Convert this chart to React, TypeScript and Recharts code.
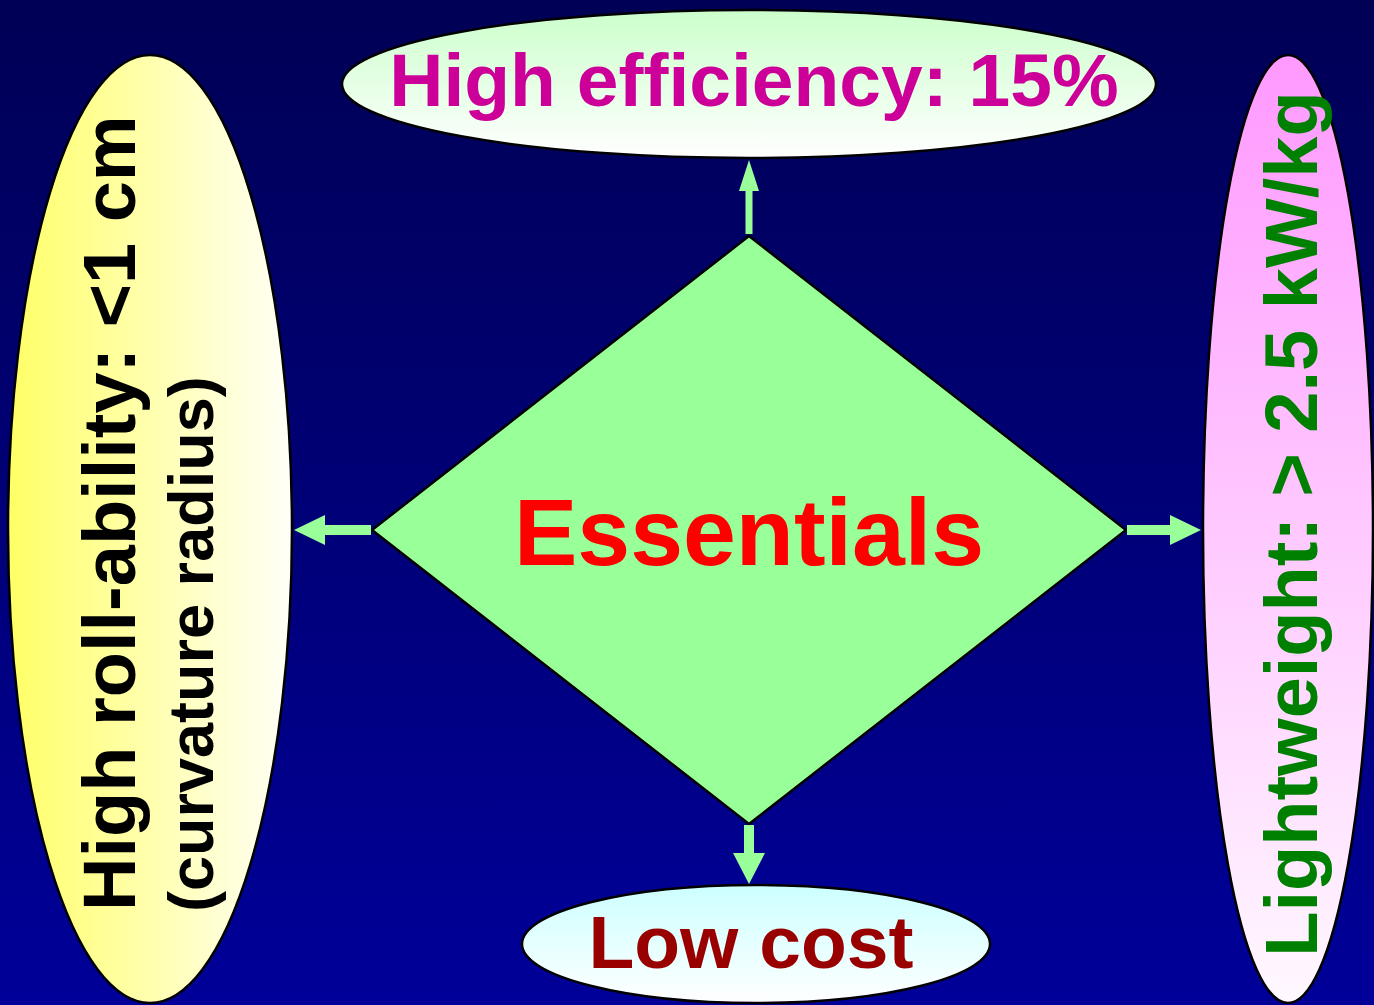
import React, { useEffect } from 'react'
import { ComposedChart, Scatter, XAxis, YAxis } from 'recharts'

const W = 1374
const H = 1005

// text content of the diagram
const centerLabel = ['Essentials']
const goalLabels = ['High efficiency: 15%', 'Low cost', 'High roll-ability: <1 cm', 'Lightweight: > 2.5 kW/kg']
const goalSubLabels = ['', '', '(curvature radius)', '']
const goalIds = ['top', 'bottom', 'left', 'right']
const arrowDirs = ['up', 'down', 'left', 'right']

// layout (diagram coordinates, same units as the axes)
const layout: Record<string, any> = {
  center: { x: 749, y: 530, hw: 377, hh: 294 },
  top: { x: 749, y: 84, rx: 407, ry: 74, fill: 'gTop', color: '#cc0099', rot: false, tx: 754, ty: 106, size: 75 },
  bottom: { x: 756, y: 944, rx: 234, ry: 59, fill: 'gBottom', color: '#990000', rot: false, tx: 751, ty: 968, size: 75 },
  left: { x: 150, y: 529, rx: 142, ry: 474, fill: 'gLeft', color: '#000000', rot: true, tx: 135, ty: 911, size: 74, anchor: 'start', sx: 213, sy: 912, ssize: 63 },
  right: { x: 1288, y: 529, rx: 85, ry: 474, fill: 'gRight', color: '#008000', rot: true, tx: 1317, ty: 524, size: 74 },
}
const arrowLayout: Record<string, any> = {
  up: { x: 749, y: 234, dx: 0, dy: -74, shaft: 3.5, head: 10 },
  down: { x: 749, y: 825, dx: 0, dy: 59, shaft: 5, head: 16 },
  left: { x: 371, y: 530, dx: -77, dy: 0, shaft: 5, head: 15 },
  right: { x: 1127, y: 530, dx: 74, dy: 0, shaft: 5, head: 15 },
}

const FONT = '"Liberation Sans", Arial, sans-serif'

const goalData = goalIds.map((id, i) => ({ ...layout[id], id, label: goalLabels[i], sub: goalSubLabels[i] }))
const centerData = [{ ...layout.center, label: centerLabel[0] }]
const arrowData = arrowDirs.map((d) => ({ ...arrowLayout[d], dir: d }))

const GoalShape = (props: any) => {
  const { cx, cy, payload } = props
  const p = payload
  const ox = cx - p.x
  const oy = cy - p.y
  return (
    <g>
      <ellipse cx={cx} cy={cy} rx={p.rx} ry={p.ry} fill={`url(#${p.fill})`} stroke="#000" strokeWidth={2.5} />
      {p.rot ? (
        <text
          x={p.tx + ox}
          y={p.ty + oy}
          transform={`rotate(-90, ${p.tx + ox}, ${p.ty + oy})`}
          textAnchor={p.anchor || 'middle'}
          fontFamily={FONT}
          fontWeight="bold"
          fontSize={p.size}
          fill={p.color}
        >
          {p.label}
        </text>
      ) : (
        <text x={p.tx + ox} y={p.ty + oy} textAnchor="middle" fontFamily={FONT} fontWeight="bold" fontSize={p.size} fill={p.color}>
          {p.label}
        </text>
      )}
      {p.sub ? (
        <text
          x={p.sx + ox}
          y={p.sy + oy}
          transform={`rotate(-90, ${p.sx + ox}, ${p.sy + oy})`}
          textAnchor="start"
          fontFamily={FONT}
          fontWeight="bold"
          fontSize={p.ssize}
          fill={p.color}
        >
          {p.sub}
        </text>
      ) : null}
    </g>
  )
}

const DiamondShape = (props: any) => {
  const { cx, cy, payload } = props
  const { hw, hh } = payload
  const pts = `${cx},${cy - hh} ${cx + hw},${cy} ${cx},${cy + hh} ${cx - hw},${cy}`
  return (
    <g>
      <polygon points={pts} fill="#99ff99" stroke="#000" strokeWidth={2.5} />
      <text x={cx} y={cy + 35} textAnchor="middle" fontFamily={FONT} fontWeight="bold" fontSize={95} fill="#ff0000">
        {payload.label}
      </text>
    </g>
  )
}

const ArrowShape = (props: any) => {
  const { cx, cy, payload } = props
  const { dx, dy, shaft, head } = payload
  const len = Math.hypot(dx, dy)
  const ux = dx / len
  const uy = dy / len
  const nx = -uy
  const ny = ux
  const headLen = 31
  const bx = cx + ux * (len - headLen)
  const by = cy + uy * (len - headLen)
  const pts = [
    [cx + nx * shaft, cy + ny * shaft],
    [bx + nx * shaft, by + ny * shaft],
    [bx + nx * head, by + ny * head],
    [cx + dx, cy + dy],
    [bx - nx * head, by - ny * head],
    [bx - nx * shaft, by - ny * shaft],
    [cx - nx * shaft, cy - ny * shaft],
  ]
    .map((q) => q.join(','))
    .join(' ')
  return <polygon points={pts} fill="#99ff99" />
}

export default function App() {
  useEffect(() => {
    document.body.style.margin = '0'
  }, [])
  return (
    <div
      style={{
        position: 'absolute',
        left: 0,
        top: 0,
        width: W,
        height: H,
        background: 'linear-gradient(to bottom, #000055 0%, #00007a 55%, #000099 100%)',
      }}
    >
      <ComposedChart width={W} height={H} margin={{ top: 0, right: 0, bottom: 0, left: 0 }}>
        <defs>
          <linearGradient id="gTop" x1="0" y1="0" x2="0" y2="1">
            <stop offset="0%" stopColor="#ccffcc" />
            <stop offset="100%" stopColor="#ffffff" />
          </linearGradient>
          <linearGradient id="gBottom" x1="0" y1="0" x2="0" y2="1">
            <stop offset="0%" stopColor="#ccffff" />
            <stop offset="100%" stopColor="#ffffff" />
          </linearGradient>
          <linearGradient id="gLeft" x1="0" y1="0" x2="1" y2="0">
            <stop offset="0%" stopColor="#ffff66" />
            <stop offset="100%" stopColor="#fffff8" />
          </linearGradient>
          <linearGradient id="gRight" x1="0" y1="0" x2="0" y2="1">
            <stop offset="0%" stopColor="#ff99ff" />
            <stop offset="100%" stopColor="#fff8ff" />
          </linearGradient>
        </defs>
        <XAxis type="number" dataKey="x" domain={[0, W]} hide allowDataOverflow />
        <YAxis type="number" dataKey="y" domain={[0, H]} reversed hide allowDataOverflow />
        <Scatter data={goalData} dataKey="y" shape={GoalShape} isAnimationActive={false} />
        <Scatter data={centerData} dataKey="y" shape={DiamondShape} isAnimationActive={false} />
        <Scatter data={arrowData} dataKey="y" shape={ArrowShape} isAnimationActive={false} />
      </ComposedChart>
    </div>
  )
}
